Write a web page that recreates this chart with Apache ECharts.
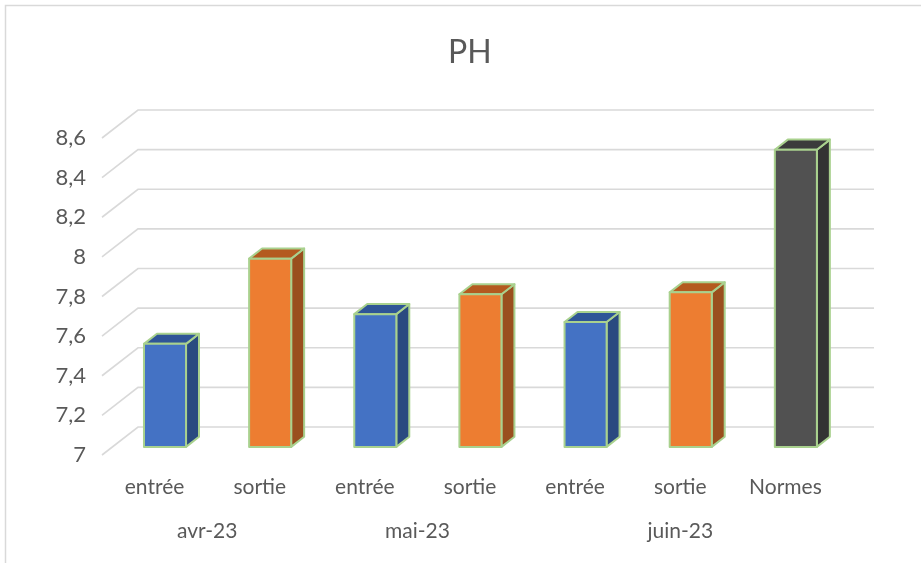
<!DOCTYPE html>
<html>
<head>
<meta charset="utf-8">
<script src="https://cdn.jsdelivr.net/npm/echarts@6/dist/echarts.min.js"></script>
<style>
html,body{margin:0;padding:0;background:#fff;}
#chart{width:921px;height:563px;}
</style>
</head>
<body>
<div id="chart"></div>
<script>
// ---- data ----
const categories = ['entrée', 'sortie', 'entrée', 'sortie', 'entrée', 'sortie', 'Normes'];
const phValues = [7.52, 7.95, 7.67, 7.77, 7.63, 7.78, 8.5];
const months = ['avr-23', 'mai-23', 'juin-23'];
const monthFirst = [0, 2, 4];
const monthLast = [1, 3, 6];
const yTicks = [7, 7.2, 7.4, 7.6, 7.8, 8, 8.2, 8.4, 8.6];
const chartTitle = 'PH';

// ---- styles ----
const FONT = 'Lato, "Liberation Sans", sans-serif';
const TEXT = '#595959';
const GRID = '#d9d9d9';
const EDGE = '#a9d18e';
const palette = {
  'entrée': { front: '#4472c4', top: '#2f5597', side: '#2a4a80' },
  'sortie': { front: '#ed7d31', top: '#b45a1f', side: '#9a4f1e' },
  'Normes': { front: '#515151', top: '#3b3b3b', side: '#333333' }
};
// oblique depth of the floor (front plane -> back wall)
const DEPTH_X = 36, DEPTH_Y = -28;
// bar placed between these fractions of the depth
const BAR_F0 = 0.29, BAR_F1 = 0.65;
const BAR_RATIO = 0.4;

const chart = echarts.init(document.getElementById('chart'));

const gridSeriesData = yTicks.map(v => [0, v]);
const barData = phValues.map((v, i) => [i, v]);
const monthData = months.map((m, i) => ({ name: m, value: [monthFirst[i], monthLast[i]] }));

const option = {
  animation: false,
  backgroundColor: '#fff',
  title: {
    text: chartTitle,
    left: 443,
    top: 32,
    textStyle: { fontFamily: FONT, fontSize: 32, fontWeight: 'normal', color: TEXT }
  },
  graphic: [{
    type: 'rect',
    shape: { x: 5.5, y: 5.5, width: 960, height: 620 },
    style: { fill: 'none', stroke: GRID, lineWidth: 1.5 },
    silent: true,
    z: -10
  }],
  grid: { left: 102, right: 83, top: 138, bottom: 108 },
  xAxis: {
    type: 'category',
    data: categories,
    axisLine: { show: false },
    axisTick: { show: false },
    axisLabel: { margin: 22, fontFamily: FONT, fontSize: 21, color: TEXT },
    splitLine: { show: false }
  },
  yAxis: {
    type: 'value',
    min: 7,
    max: 8.6,
    interval: 0.2,
    axisLine: { show: false },
    axisTick: { show: false },
    splitLine: { show: false },
    axisLabel: {
      margin: 16,
      fontFamily: FONT, fontSize: 22, color: TEXT,
      formatter: v => String(Math.round(v * 10) / 10).replace('.', ',')
    }
  },
  series: [
    {
      type: 'custom',
      name: 'gridlines',
      z: 1,
      silent: true,
      data: gridSeriesData,
      renderItem: function (params, api) {
        const cs = params.coordSys;
        const y = api.coord([0, api.value(1)])[1];
        const x0 = cs.x;
        return {
          type: 'polyline',
          shape: { points: [[x0, y], [x0 + DEPTH_X, y + DEPTH_Y], [x0 + DEPTH_X + cs.width, y + DEPTH_Y]] },
          style: { fill: 'none', stroke: GRID, lineWidth: 1.6 }
        };
      }
    },
    {
      type: 'custom',
      name: 'PH',
      z: 5,
      data: barData,
      renderItem: function (params, api) {
        const i = api.value(0);
        const v = api.value(1);
        const base = api.coord([i, 7]);
        const top = api.coord([i, v]);
        const band = api.size([1, 0])[0];
        const w = band * BAR_RATIO;
        const fx = DEPTH_X * BAR_F0, fy = DEPTH_Y * BAR_F0;
        const dx = DEPTH_X * (BAR_F1 - BAR_F0), dy = DEPTH_Y * (BAR_F1 - BAR_F0);
        const xl = base[0] + fx - w / 2, xr = base[0] + fx + w / 2;
        const yb = base[1] + fy, yt = top[1] + fy;
        const c = palette[categories[i]];
        const st = { stroke: EDGE, lineWidth: 2, lineJoin: 'round' };
        return {
          type: 'group',
          children: [
            { type: 'polygon', shape: { points: [[xr, yb], [xr + dx, yb + dy], [xr + dx, yt + dy], [xr, yt]] }, style: Object.assign({ fill: c.side }, st) },
            { type: 'polygon', shape: { points: [[xl, yt], [xl + dx, yt + dy], [xr + dx, yt + dy], [xr, yt]] }, style: Object.assign({ fill: c.top }, st) },
            { type: 'rect', shape: { x: xl, y: yt, width: w, height: yb - yt }, style: Object.assign({ fill: c.front }, st) }
          ]
        };
      }
    },
    {
      type: 'custom',
      name: 'months',
      z: 5,
      silent: true,
      clip: false,
      data: monthData,
      renderItem: function (params, api) {
        const cs = params.coordSys;
        const a = api.coord([api.value(0), 7]);
        const b = api.coord([api.value(1), 7]);
        return {
          type: 'text',
          style: {
            text: months[params.dataIndex],
            x: (a[0] + b[0]) / 2,
            y: cs.y + cs.height + 76,
            align: 'center',
            verticalAlign: 'middle',
            fontFamily: FONT, fontSize: 21, fill: TEXT
          }
        };
      }
    }
  ]
};
chart.setOption(option);
</script>
</body>
</html>
